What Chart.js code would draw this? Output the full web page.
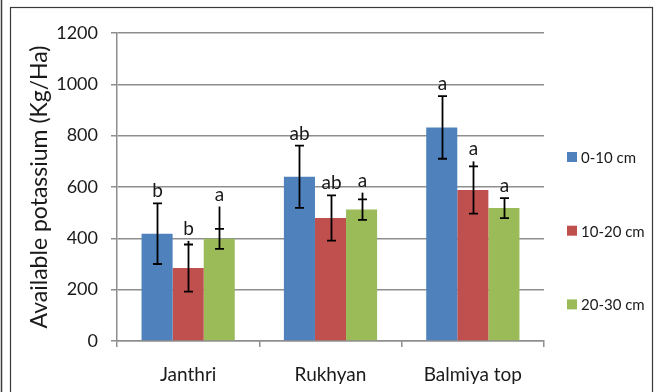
<!DOCTYPE html>
<html>
<head>
<meta charset="utf-8">
<script src="https://cdn.jsdelivr.net/npm/chart.js@4/dist/chart.umd.min.js"></script>
<style>
  html, body { margin: 0; padding: 0; background: #fff; }
  canvas { display: block; }
</style>
</head>
<body>
<canvas id="chart" width="658" height="392"></canvas>
<script>
// Sites and soil depths
const categories = ['Janthri', 'Rukhyan', 'Balmiya top'];
const depths = ['0-10 cm', '10-20 cm', '20-30 cm'];

// Mean available potassium (Kg/Ha) per depth
const k0_10 = [418, 640, 832];
const k10_20 = [284, 479, 588];
const k20_30 = [398, 512, 518];

// Error bar half-lengths (capped whiskers)
const err0_10 = [118, 121, 122];
const err10_20 = [92, 88, 92];
const err20_30 = [39, 40, 39];

// Upper ends of the uncapped whisker stems, where one is drawn above the cap
const stem0_10 = [null, null, null];
const stem10_20 = [390, null, 700];
const stem20_30 = [524, 578, null];

// Significance letters
const letters0_10 = ['b', 'ab', 'a'];
const letters10_20 = ['b', 'ab', 'a'];
const letters20_30 = ['a', 'a', 'a'];

// Y axis ticks
const yTicks = [0, 200, 400, 600, 800, 1000, 1200];

const colors = ['#4F81BD', '#C0504D', '#9BBB59'];
const FONT = 'Lato, "Open Sans", sans-serif';
const TEXT = '#1a1a1a';
const GRID = '#8e8e8e';

const series = [k0_10, k10_20, k20_30];
const errs = [err0_10, err10_20, err20_30];
const stems = [stem0_10, stem10_20, stem20_30];
const letters = [letters0_10, letters10_20, letters20_30];

// White page with the outer frame
const framePlugin = {
  id: 'frame',
  beforeDraw(chart) {
    const ctx = chart.ctx;
    ctx.save();
    ctx.fillStyle = '#fff';
    ctx.fillRect(0, 0, chart.width, chart.height);
    ctx.strokeStyle = '#3a3a3a';
    ctx.lineWidth = 1.5;
    ctx.beginPath();
    ctx.moveTo(1.5, 0);
    ctx.lineTo(1.5, chart.height);
    ctx.stroke();
    ctx.lineWidth = 1.2;
    ctx.strokeRect(10.5, 7.5, 642, chart.height + 10);
    ctx.restore();
  }
};

// Error bars and letters above each bar
const errorPlugin = {
  id: 'errorBars',
  afterDatasetsDraw(chart) {
    const ctx = chart.ctx;
    const y = chart.scales.y;
    ctx.save();
    ctx.strokeStyle = '#000';
    ctx.lineWidth = 1.8;
    ctx.font = '19px ' + FONT;
    ctx.fillStyle = TEXT;
    ctx.textAlign = 'center';
    ctx.textBaseline = 'alphabetic';
    series.forEach((vals, i) => {
      const meta = chart.getDatasetMeta(i);
      vals.forEach((v, j) => {
        const bar = meta.data[j];
        const x = Math.round(bar.x) + 0.5;
        const hi = y.getPixelForValue(v + errs[i][j]);
        const lo = y.getPixelForValue(v - errs[i][j]);
        ctx.beginPath();
        ctx.moveTo(x, hi);
        ctx.lineTo(x, lo);
        ctx.moveTo(x - 4.5, hi);
        ctx.lineTo(x + 4.5, hi);
        ctx.moveTo(x - 4.5, lo);
        ctx.lineTo(x + 4.5, lo);
        ctx.stroke();
        let top = hi;
        if (stems[i][j] !== null) {
          const s = y.getPixelForValue(stems[i][j]);
          ctx.beginPath();
          ctx.moveTo(x, hi);
          ctx.lineTo(x, s);
          ctx.stroke();
          top = Math.min(top, s);
        }
        ctx.fillText(letters[i][j], x, top - 6);
      });
    });
    ctx.restore();
  }
};

// Legend stacked on the right
const keyPlugin = {
  id: 'depthKey',
  afterDraw(chart) {
    const ctx = chart.ctx;
    ctx.save();
    ctx.font = '15px ' + FONT;
    ctx.textBaseline = 'middle';
    ctx.textAlign = 'left';
    chart.data.datasets.forEach((ds, i) => {
      const cy = 157 + i * 73.7;
      ctx.fillStyle = ds.backgroundColor;
      ctx.fillRect(567, cy - 5, 10, 10);
      ctx.fillStyle = TEXT;
      ctx.fillText(ds.label, 581, cy + 1);
    });
    ctx.restore();
  }
};

new Chart(document.getElementById('chart'), {
  type: 'bar',
  data: {
    labels: categories,
    datasets: series.map((vals, i) => ({
      label: depths[i],
      data: vals,
      backgroundColor: colors[i],
      borderWidth: 0,
      barPercentage: 1,
      categoryPercentage: 0.655
    }))
  },
  options: {
    responsive: false,
    animation: false,
    devicePixelRatio: 1,
    layout: { padding: { left: 0, top: 33, right: 114, bottom: 0 } },
    plugins: {
      legend: { display: false },
      tooltip: { enabled: false }
    },
    scales: {
      x: {
        grid: {
          display: true,
          drawOnChartArea: false,
          drawTicks: true,
          tickLength: 6,
          color: GRID,
          lineWidth: 1.5,
          offset: true
        },
        border: { display: true, color: GRID, width: 1.5 },
        ticks: { color: TEXT, font: { family: FONT, size: 19 }, padding: 16 },
        afterFit(scale) { scale.height = 51; }
      },
      y: {
        min: 0,
        max: 1200,
        afterBuildTicks(scale) { scale.ticks = yTicks.map(v => ({ value: v })); },
        grid: { color: GRID, lineWidth: 1.5, tickLength: 6 },
        border: { display: true, color: GRID, width: 1.5 },
        ticks: {
          color: TEXT,
          font: { family: FONT, size: 18 },
          padding: 13,
          callback: (v) => String(v)
        },
        title: {
          display: true,
          text: 'Available potassium (Kg/Ha)',
          color: TEXT,
          font: { family: FONT, size: 23 },
          padding: { top: 26, bottom: 0 }
        },
        afterFit(scale) { scale.width = 117; }
      }
    }
  },
  plugins: [framePlugin, errorPlugin, keyPlugin]
});
</script>
</body>
</html>
